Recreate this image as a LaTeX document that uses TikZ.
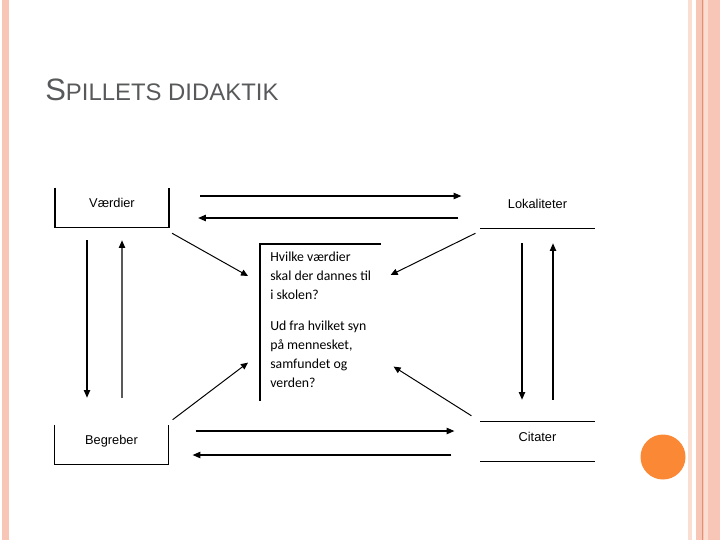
\documentclass[tikz,border=0pt]{standalone}
\usepackage{fontspec}
\setmainfont{Liberation Sans}
\newfontfamily\carlito{Carlito}
\usepackage{tikz}
\usetikzlibrary{arrows.meta}
\definecolor{stripePink}{RGB}{247,198,182}
\definecolor{stripeLight}{RGB}{251,222,210}
\definecolor{stripeDark}{RGB}{226,146,114}
\definecolor{dotOrange}{RGB}{251,136,53}
\definecolor{titleGray}{RGB}{88,89,91}

\begin{document}
\begin{tikzpicture}[x=0.025cm,y=-0.025cm,
  felt/.style={rectangle,inner sep=0pt,minimum width=2.84cm,
               text height=13.5pt,text depth=14.2pt,font=\fontsize{9.1}{11}\selectfont},
  ramme/.style={line width=0.9pt},
  arr/.style={-{Triangle[length=5.5pt,width=4.5pt]},line width=0.9pt},
  darr/.style={-{Triangle[length=5pt,width=4.5pt]},line width=0.7pt}
]
  \useasboundingbox (0,0) rectangle (720,540);
  % slide border
  \fill[stripePink] (2,0) rectangle (9,540);
  \fill[stripeLight] (688,0) rectangle (692,540);
  \fill[stripePink] (696,0) rectangle (720,540);
  \fill[stripeLight] (703.5,0) rectangle (708,540);
  \draw[stripeDark,line width=1pt] (702.5,0) -- (702.5,540);
  \fill[dotOrange] (663,457) circle (0.5625cm);

  \node[anchor=base west,inner sep=0pt,text=titleGray,font=\fontsize{22}{24}\selectfont]
    (titel) at (45,100) {S\fontsize{17}{20}\selectfont PILLETS DIDAKTIK};

  \node[felt] (vaerdier) at (112,207.5) {Værdier};
  \node[felt] (lokal)    at (537.5,208.5) {Lokaliteter};
  \node[felt] (begreber) at (111.5,444.5) {Begreber};
  \node[felt] (citater)  at (537.5,441.5) {Citater};
  \node[minimum width=3cm,minimum height=3.9cm,inner sep=0pt,anchor=north west]
    (midt) at (260,244) {};
  \node[anchor=north west,inner sep=0pt,align=left,
        font=\carlito\fontsize{9.8}{13.5}\selectfont] (spg)
    at ([shift={(10,8)}]midt.north west)
    {Hvilke værdier\\skal der dannes til\\i skolen?\\[8.5pt]
     Ud fra hvilket syn\\på mennesket,\\samfundet og\\verden?};

  \draw[ramme] (vaerdier.north west) -- (vaerdier.south west)
               -- (vaerdier.south east) -- (vaerdier.north east);
  \draw[ramme] (begreber.north west) -- (begreber.south west)
               -- (begreber.south east) -- (begreber.north east);
  \draw[ramme] (lokal.south west) -- (lokal.south east);
  \draw[ramme] (citater.north west) -- (citater.north east);
  \draw[ramme] (citater.south west) -- (citater.south east);
  \draw[ramme] (midt.south west) |- (midt.north east);

  \draw[arr] ([shift={(31,-11.5)}]vaerdier.east) -- ([shift={(-19,-12.5)}]lokal.west);
  \draw[arr] ([shift={(-22,9.5)}]lokal.west) -- ([shift={(29,10.5)}]vaerdier.east);
  \draw[arr] ([shift={(27,-13.5)}]begreber.east) -- ([shift={(-26,-10.5)}]citater.west);
  \draw[arr] ([shift={(-29,13.5)}]citater.west) -- ([shift={(24,10.5)}]begreber.east);
  \draw[arr] ([shift={(-25,13)}]vaerdier.south) -- ([shift={(-24.5,-27)}]begreber.north);
  \draw[arr] ([shift={(10.5,-27)}]begreber.north) -- ([shift={(10,13)}]vaerdier.south);
  \draw[arr] ([shift={(-15.5,15)}]lokal.south) -- ([shift={(-15.5,-22)}]citater.north);
  \draw[arr] ([shift={(15.5,-22)}]citater.north) -- ([shift={(15.5,15)}]lokal.south);

  \draw[darr] ([shift={(3,6)}]vaerdier.south east) -- ([shift={(-12,32)}]midt.north west);
  \draw[darr] ([shift={(-5,5)}]lokal.south west) -- ([shift={(10,31)}]midt.north east);
  \draw[darr] ([shift={(4,-5)}]begreber.north east) -- ([shift={(-12,-38)}]midt.south west);
  \draw[darr] ([shift={(-9,-6)}]citater.north west) -- ([shift={(13,-34)}]midt.south east);
\end{tikzpicture}
\end{document}
